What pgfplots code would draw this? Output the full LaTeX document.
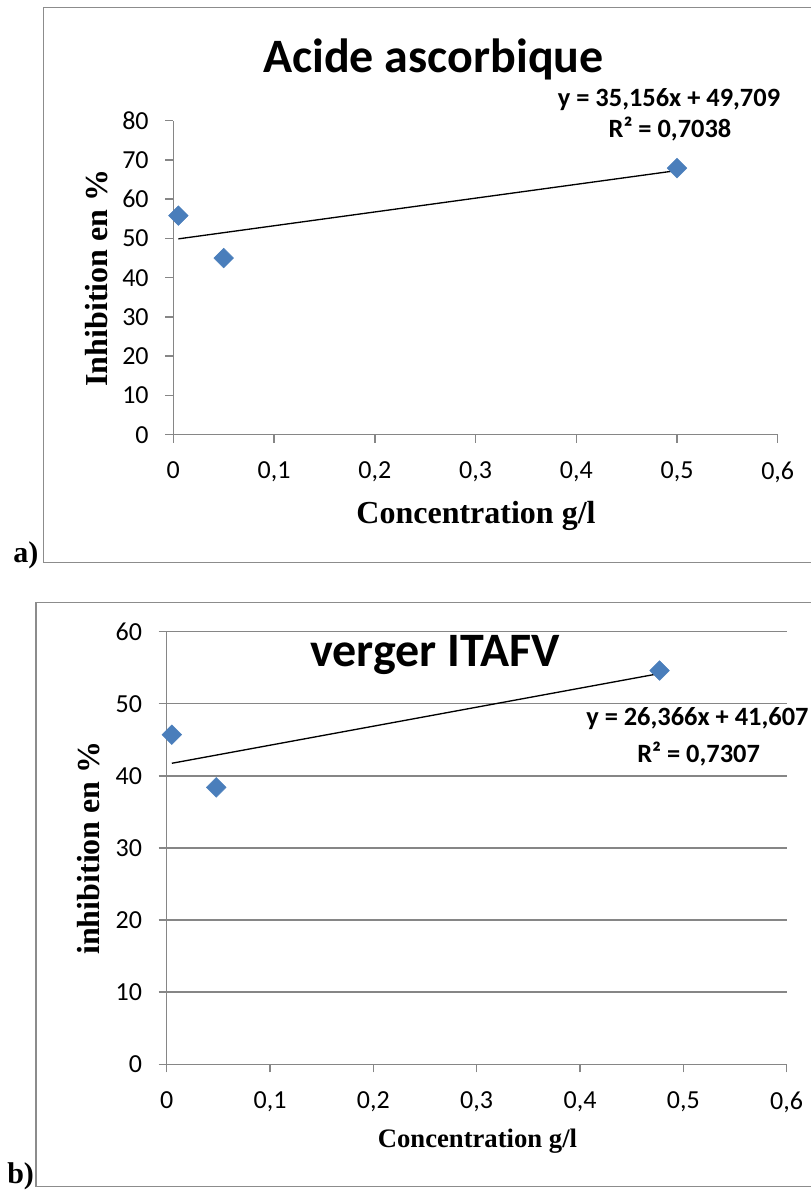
\documentclass[border=0pt]{standalone}
\usepackage{pgfplots}
\pgfplotsset{compat=1.18}
\usepackage{fontspec}
\setmainfont{Liberation Serif}
\newfontfamily\calibri{Carlito}
\definecolor{axgray}{HTML}{868686}
\definecolor{framegray}{HTML}{8C8C8C}
\definecolor{mblue}{HTML}{4A7EBB}
\pgfplotsset{
  mystyle/.style={
    scale only axis,
    axis lines=left,
    axis line style={-, draw=axgray, line width=1.1pt},
    tick style={draw=axgray, line width=1.1pt},
    tick align=outside,
    major tick length=6pt,
    xmin=0, xmax=0.6,
    xtick={0,0.1,0.2,0.3,0.4,0.5,0.6},
    /pgf/number format/assume math mode=true,
    /pgf/number format/use comma,
    ticklabel style={font=\calibri\fontsize{19.5}{19.5}\selectfont},
    xticklabel style={yshift=-11pt},
    yticklabel style={xshift=-9pt},
    clip=false,
  }
}
\begin{document}
\begin{tikzpicture}
\useasboundingbox (0,0) rectangle (608.25pt,892.5pt);
\clip (0,0) rectangle (608.25pt,892.5pt);
% frames
\draw[framegray, line width=1.1pt] (640pt,887pt) -- (32.5pt,887pt) -- (32.5pt,470.5pt) -- (640pt,470.5pt);
\draw[framegray, line width=1.1pt] (640pt,440.5pt) -- (27pt,440.5pt) -- (27pt,2.5pt) -- (640pt,2.5pt);

% chart a
\begin{axis}[mystyle,
  at={(130pt,566.5pt)}, anchor=south west,
  width=453.3pt, height=235.5pt,
  ymin=0, ymax=80, ytick={0,10,...,80}]
\addplot[only marks, mark=square*, mark size=5.2pt, mark options={rotate=45, draw=mblue, fill=mblue}]
  coordinates {(0.005,55.8) (0.05,45) (0.5,67.9)};
\addplot[black, line width=1pt] coordinates {(0.005,49.885) (0.5,67.287)};
\end{axis}

% chart b
\begin{axis}[mystyle,
  at={(125pt,94.3pt)}, anchor=south west,
  width=465pt, height=324.5pt,
  ymin=0, ymax=60, ytick={0,10,...,60},
  ymajorgrids, grid style={draw=axgray, line width=1.1pt}]
\addplot[only marks, mark=square*, mark size=5.2pt, mark options={rotate=45, draw=mblue, fill=mblue}]
  coordinates {(0.005,45.7) (0.048,38.4) (0.477,54.6)};
\addplot[black, line width=1pt] coordinates {(0.005,41.739) (0.477,54.184)};
\end{axis}

% texts chart a
\node[anchor=base, font=\calibri\bfseries\fontsize{36}{36}\selectfont] at (325.1pt,838.4pt) {Acide ascorbique};
\node[anchor=base, font=\calibri\bfseries\fontsize{19.8}{19.8}\selectfont] at (501.75pt,812.5pt) {y = 35,156x + 49,709};
\node[anchor=base, font=\calibri\bfseries\fontsize{19.8}{19.8}\selectfont] at (502.5pt,789pt) {R² = 0,7038};
\node[rotate=90, font=\bfseries\fontsize{24}{24}\selectfont] at (72.75pt,684pt) {Inhibition en \%};
\node[anchor=base, font=\bfseries\fontsize{24}{24}\selectfont] at (357pt,499.5pt) {Concentration g/l};
\node[anchor=base west, inner sep=0pt, font=\bfseries\fontsize{22.5}{22.5}\selectfont] at (9.75pt,470.25pt) {a)};

% texts chart b
\node[anchor=base, font=\calibri\bfseries\fontsize{36}{36}\selectfont] at (326.25pt,392.7pt) {verger ITAFV};
\node[anchor=base west, inner sep=0pt, font=\calibri\bfseries\fontsize{19.8}{19.8}\selectfont] at (439.5pt,348pt) {y = 26,366x + 41,607};
\node[anchor=base, font=\calibri\bfseries\fontsize{19.8}{19.8}\selectfont] at (524pt,320.25pt) {R² = 0,7307};
\node[rotate=90, font=\bfseries\fontsize{24}{24}\selectfont] at (66.75pt,256.5pt) {inhibition en \%};
\node[anchor=base, font=\bfseries\fontsize{20}{20}\selectfont] at (358.1pt,31.9pt) {Concentration g/l};
\node[anchor=base west, inner sep=0pt, font=\bfseries\fontsize{22.5}{22.5}\selectfont] at (5.25pt,5pt) {b)};
\end{tikzpicture}
\end{document}
